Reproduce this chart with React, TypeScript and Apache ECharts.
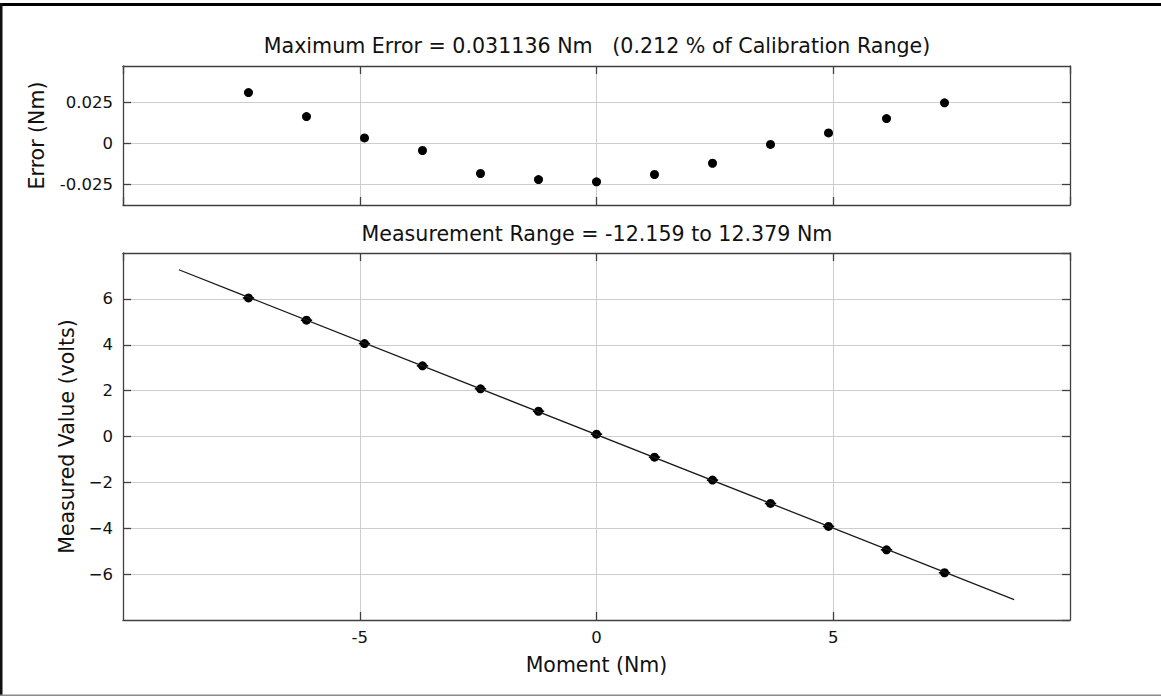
import React, { useEffect, useRef } from 'react';
import * as echarts from 'echarts';

// Applied moment (Nm) at each calibration point
const momentNm = [-7.35, -6.125, -4.9, -3.675, -2.45, -1.225, 0, 1.225, 2.45, 3.675, 4.9, 6.125, 7.35];
// Calibration error (Nm)
const errorNm = [0.0312, 0.0165, 0.0034, -0.0043, -0.0184, -0.0221, -0.0235, -0.019, -0.0121, -0.0006, 0.0065, 0.0153, 0.0249];
// Measured value (volts)
const measuredV = [6.04, 5.07, 4.05, 3.08, 2.08, 1.1, 0.1, -0.9, -1.9, -2.92, -3.92, -4.94, -5.94];
// Horizontal error bar half-width (Nm)
const xErr = 0.12;
// Fitted calibration line end points
const fitX = [-8.82, 8.82];
const fitY = [7.27, -7.11];
// Tick values
const errTicks = [-0.025, 0, 0.025];
const errTickLabels = ['-0.025', '0', '0.025'];

const titleTop = 'Maximum Error = 0.031136 Nm   (0.212 % of Calibration Range)';
const titleBottom = 'Measurement Range = -12.159 to 12.379 Nm';

const FONT = 'DejaVu Sans';
const AX = '#404040';
const GRID = '#cdcdcd';
const TICK_FS = 16.5;
const NAME_FS = 20.5;

function baseAxis(extra: any) {
  return {
    axisLine: { show: true, onZero: false, lineStyle: { color: AX, width: 1.3 } },
    axisTick: { show: true, inside: true, length: 8, lineStyle: { color: AX, width: 1.3 } },
    splitLine: { show: false },
    axisLabel: { show: false },
    ...extra,
  };
}

export default function App() {
  const ref = useRef<HTMLDivElement>(null);
  useEffect(() => {
    const chart = echarts.init(ref.current!, null, { renderer: 'svg' });
    const xLim = { min: -10, max: 10, interval: 5 };
    const option: any = {
      animation: false,
      backgroundColor: '#fff',
      textStyle: { fontFamily: FONT },
      grid: [
        { left: 123, top: 66, width: 947, height: 139 },
        { left: 123, top: 253, width: 947, height: 367 },
      ],
      xAxis: [
        baseAxis({ type: 'value', gridIndex: 0, position: 'bottom', ...xLim,
          splitLine: { show: true, lineStyle: { color: GRID, width: 1 } } }),
        baseAxis({ type: 'value', gridIndex: 0, position: 'top', ...xLim }),
        baseAxis({ type: 'value', gridIndex: 1, position: 'bottom', ...xLim,
          splitLine: { show: true, lineStyle: { color: GRID, width: 1 } },
          axisLabel: { show: true, showMinLabel: false, showMaxLabel: false, fontFamily: FONT, fontSize: TICK_FS, color: '#111', margin: 9,
            formatter: (v: number) => String(v) },
          name: 'Moment (Nm)', nameLocation: 'middle', nameGap: 34,
          nameTextStyle: { fontFamily: FONT, fontSize: NAME_FS, color: '#111' } }),
        baseAxis({ type: 'value', gridIndex: 1, position: 'top', ...xLim }),
      ],
      yAxis: [
        baseAxis({ type: 'value', gridIndex: 0, position: 'left', min: -0.0377, max: 0.0475,
          axisTick: { show: true, inside: true, length: 8, customValues: errTicks, lineStyle: { color: AX, width: 1.3 } },
          splitLine: { show: true, lineStyle: { color: GRID, width: 1 } },
          axisLabel: { show: true, customValues: errTicks, fontFamily: FONT, fontSize: TICK_FS, color: '#111', margin: 10,
            formatter: (v: number) => errTickLabels[errTicks.findIndex((t) => Math.abs(t - v) < 1e-9)] ?? String(v) },
          name: 'Error (Nm)', nameLocation: 'middle', nameGap: 76,
          nameTextStyle: { fontFamily: FONT, fontSize: NAME_FS, color: '#111' } }),
        baseAxis({ type: 'value', gridIndex: 0, position: 'right', min: -0.0377, max: 0.0475,
          axisTick: { show: true, inside: true, length: 8, customValues: errTicks, lineStyle: { color: AX, width: 1.3 } } }),
        baseAxis({ type: 'value', gridIndex: 1, position: 'left', min: -8, max: 8, interval: 2,
          splitLine: { show: true, lineStyle: { color: GRID, width: 1 } },
          axisLabel: { show: true, showMinLabel: false, showMaxLabel: false, fontFamily: FONT, fontSize: TICK_FS, color: '#111', margin: 10,
            formatter: (v: number) => (v < 0 ? '\u2212' + Math.abs(v) : String(v)) },
          name: 'Measured Value (volts)', nameLocation: 'middle', nameGap: 45,
          nameTextStyle: { fontFamily: FONT, fontSize: NAME_FS, color: '#111' } }),
        baseAxis({ type: 'value', gridIndex: 1, position: 'right', min: -8, max: 8, interval: 2 }),
      ],
      graphic: [
        { type: 'rect', shape: { x: 0, y: 3, width: 1161, height: 3 }, style: { fill: '#000' } },
        { type: 'rect', shape: { x: 0, y: 3, width: 2.5, height: 693 }, style: { fill: '#111' } },
        { type: 'rect', shape: { x: 0, y: 694.5, width: 1161, height: 1.5 }, style: { fill: '#8a8a8a' } },
        { type: 'text', x: 597, y: 46, style: { text: titleTop, fontFamily: FONT, fontSize: 20.6, fill: '#111', align: 'center', verticalAlign: 'middle' } },
        { type: 'text', x: 597, y: 234, style: { text: titleBottom, fontFamily: FONT, fontSize: 20.6, fill: '#111', align: 'center', verticalAlign: 'middle' } },
      ],
      series: [
        {
          type: 'scatter', xAxisIndex: 0, yAxisIndex: 0, symbol: 'circle', symbolSize: 9,
          itemStyle: { color: '#000', opacity: 1 },
          data: momentNm.map((x, i) => [x, errorNm[i]]),
        },
        {
          type: 'line', xAxisIndex: 2, yAxisIndex: 2, showSymbol: false, symbol: 'none',
          lineStyle: { color: '#1a1a1a', width: 1.3 },
          data: fitX.map((x, i) => [x, fitY[i]]),
        },
        {
          type: 'custom', xAxisIndex: 2, yAxisIndex: 2,
          renderItem: (params: any, api: any) => {
            const x = api.value(0);
            const y = api.value(1);
            const p0 = api.coord([x - xErr, y]);
            const p1 = api.coord([x + xErr, y]);
            return { type: 'line', shape: { x1: p0[0], y1: p0[1], x2: p1[0], y2: p1[1] }, style: { stroke: '#000', lineWidth: 1.6 } };
          },
          data: momentNm.map((x, i) => [x, measuredV[i]]),
        },
        {
          type: 'scatter', xAxisIndex: 2, yAxisIndex: 2, symbol: 'circle', symbolSize: 9,
          itemStyle: { color: '#000', opacity: 1 },
          data: momentNm.map((x, i) => [x, measuredV[i]]),
        },
      ],
    };
    chart.setOption(option);
    return () => chart.dispose();
  }, []);
  return <div ref={ref} style={{ position: 'fixed', left: 0, top: 0, width: 1161, height: 696, background: '#fff' }} />;
}
